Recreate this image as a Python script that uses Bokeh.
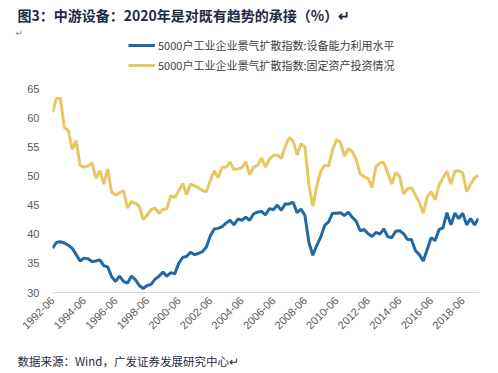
import math
import pandas as pd
from bokeh.plotting import figure
from bokeh.models import (Range1d, FixedTicker, Legend, LegendItem, Label,
                          ColumnDataSource)
from bokeh.embed import file_html
from bokeh.resources import INLINE

# ---------------- data ----------------
quarters = [str(p.end_time.strftime("%Y-%m")) for p in pd.period_range("1992Q2", "2019Q2", freq="Q")]

capacity_util = [
    37.6, 38.6, 38.7, 38.5, 38.1, 37.6, 36.5, 35.4, 35.9, 35.8,
    35.3, 35.4, 35.6, 34.6, 34.4, 32.7, 31.9, 32.8, 31.9, 31.6,
    32.8, 32.2, 31.2, 30.7, 31.2, 31.4, 32.3, 32.8, 33.5, 32.8,
    33.4, 33.2, 35.0, 36.0, 36.2, 36.9, 36.5, 36.7, 37.0, 37.8,
    39.7, 40.9, 41.0, 41.3, 41.9, 42.4, 41.6, 42.6, 42.4, 42.9,
    42.4, 43.5, 43.8, 43.9, 43.3, 44.4, 44.2, 45.0, 44.1, 45.2,
    45.2, 45.5, 43.7, 44.3, 43.2, 38.6, 36.4, 38.1, 39.5, 41.5,
    42.1, 43.6, 43.6, 43.7, 43.2, 43.8, 42.9, 42.2, 40.6, 40.8,
    40.1, 39.6, 40.3, 40.0, 40.9, 39.6, 39.4, 40.5, 40.6, 40.1,
    39.1, 39.1, 37.2, 36.5, 35.4, 37.4, 39.4, 38.9, 40.8, 41.1,
    43.7, 41.6, 43.6, 42.7, 43.6, 41.6, 42.7, 41.6, 42.7,
]

fixed_invest = [
    60.9, 63.3, 63.3, 58.3, 57.8, 54.6, 56.0, 51.8, 51.5, 51.7,
    52.3, 49.6, 50.9, 48.6, 51.2, 47.2, 46.7, 47.1, 47.5, 44.5,
    45.6, 45.3, 44.8, 42.5, 43.3, 44.2, 44.5, 43.6, 44.2, 44.4,
    46.6, 46.3, 47.4, 48.7, 46.8, 48.6, 48.3, 48.0, 47.5, 47.3,
    49.2, 50.9, 49.7, 51.5, 51.5, 52.4, 51.1, 51.2, 51.4, 52.4,
    50.2, 51.5, 51.8, 53.1, 51.5, 52.9, 53.5, 53.6, 53.0, 55.0,
    56.6, 56.0, 53.6, 55.5, 55.0, 48.5, 44.8, 48.3, 50.8, 51.8,
    51.7, 54.4, 56.2, 55.8, 53.4, 54.7, 54.2, 52.8, 50.3, 49.9,
    49.6, 48.0, 51.6, 52.2, 52.3, 50.5, 48.6, 50.6, 49.9, 46.9,
    47.8, 48.0, 46.7, 45.5, 43.6, 46.4, 47.3, 45.9, 48.4, 49.7,
    50.8, 48.6, 50.8, 50.9, 50.5, 47.3, 48.6, 49.7, 50.1,
]

series_names = ["5000户工业企业景气扩散指数:设备能力利用水平",
                "5000户工业企业景气扩散指数:固定资产投资情况"]
y_ticks = [30, 35, 40, 45, 50, 55, 60, 65]
tick_labels = ["1992-06", "1994-06", "1996-06", "1998-06", "2000-06", "2002-06",
               "2004-06", "2006-06", "2008-06", "2010-06", "2012-06", "2014-06",
               "2016-06", "2018-06"]

title_text = "图3：中游设备：2020年是对既有趋势的承接（%）↵"
source_text = "数据来源：Wind，广发证券发展研究中心↵"

W = 498
NAVY = "#1F2A44"


def blank_fig(h):
    # a text-only strip whose ranges equal its own pixel grid (y from bottom)
    f = figure(width=W, height=h, output_backend="svg", toolbar_location=None,
               x_range=Range1d(0, W), y_range=Range1d(0, h),
               min_border_left=0, min_border_right=0, min_border_top=0,
               min_border_bottom=0)
    f.title.visible = False
    f.axis.visible = False
    f.outline_line_color = None
    f.grid.visible = False
    return f


def add_rule(f, h, y_top_px):
    # horizontal rule drawn as a legend glyph sample (490 px wide)
    r = f.line(x=[], y=[], line_color="black", line_width=1.3)
    lg = Legend(items=[LegendItem(label=" ", renderers=[r])],
                location=(7, h - y_top_px - 1), orientation="vertical")
    lg.glyph_width = 490
    lg.glyph_height = 2
    lg.label_height = 2
    lg.label_width = 0
    lg.label_standoff = 0
    lg.label_text_font_size = "1px"
    lg.spacing = 0
    lg.padding = 0
    lg.margin = 0
    lg.border_line_color = None
    lg.background_fill_alpha = 0
    f.add_layout(lg, "center")


# ---------------- header ----------------
HH = 37
head = blank_fig(HH)
head.add_layout(Label(x=17, y=HH - 14, text=title_text,
                      text_font="Noto Sans CJK SC", text_font_size="14px",
                      text_font_style="bold", text_color=NAVY,
                      text_baseline="middle"))
add_rule(head, HH, 25.7)
head.add_layout(Label(x=15, y=HH - 32.5, text="↵",
                      text_font="DejaVu Sans", text_font_size="9px",
                      text_color="#8C8C8C", text_baseline="middle"))

# ---------------- main chart ----------------
MH = 303
p = figure(width=W, height=MH, output_backend="svg", toolbar_location=None,
           x_range=Range1d(0, len(quarters) - 1), y_range=Range1d(30, 73.75),
           min_border_left=52, min_border_right=20, min_border_top=0,
           min_border_bottom=48)
p.title.visible = False
p.outline_line_color = None

src = ColumnDataSource(dict(x=list(range(len(quarters))), q=quarters,
                            cap=capacity_util, inv=fixed_invest))
r1 = p.line("x", "cap", source=src, line_color="#1F69A6", line_width=3)
r2 = p.line("x", "inv", source=src, line_color="#E8C663", line_width=3)

tick_pos = [quarters.index(t) for t in tick_labels]
p.xaxis.ticker = FixedTicker(ticks=tick_pos)
p.xaxis.major_label_overrides = {i: quarters[i] for i in tick_pos}
p.xaxis.major_label_orientation = math.pi / 4
p.xaxis.axis_line_color = "#D9D9D9"
p.xaxis.major_tick_line_color = None
p.xaxis.minor_tick_line_color = None
p.xaxis.major_tick_out = 0
p.xaxis.major_label_standoff = 6
p.xaxis.major_label_text_font = "Liberation Sans"
p.xaxis.major_label_text_font_size = "11px"
p.xaxis.major_label_text_color = "#595959"

p.yaxis.ticker = FixedTicker(ticks=y_ticks)
p.yaxis.axis_line_color = None
p.yaxis.major_tick_line_color = None
p.yaxis.minor_tick_line_color = None
p.yaxis.major_tick_out = 0
p.yaxis.major_label_standoff = 13
p.yaxis.major_label_text_font = "Liberation Sans"
p.yaxis.major_label_text_font_size = "11px"
p.yaxis.major_label_text_color = "#595959"

p.xgrid.grid_line_color = None
p.ygrid.grid_line_color = None

legend = Legend(items=[LegendItem(label=series_names[0], renderers=[r1]),
                       LegendItem(label=series_names[1], renderers=[r2])],
                location=(76, 219), orientation="vertical")
legend.label_text_font = "Noto Sans CJK SC"
legend.label_text_font_size = "11px"
legend.label_text_color = "#404040"
legend.glyph_width = 27
legend.glyph_height = 16
legend.label_height = 16
legend.label_standoff = 3
legend.spacing = 4
legend.padding = 0
legend.margin = 0
legend.border_line_color = None
legend.background_fill_alpha = 0
p.add_layout(legend, "center")

# ---------------- footer ----------------
FH = 33
foot = blank_fig(FH)
add_rule(foot, FH, 8.3)
foot.add_layout(Label(x=17, y=FH - 20, text=source_text,
                      text_font="Noto Sans CJK SC", text_font_size="11.5px",
                      text_color=NAVY, text_baseline="middle"))

open("out.html", "w").write(file_html([head, p, foot], INLINE))
